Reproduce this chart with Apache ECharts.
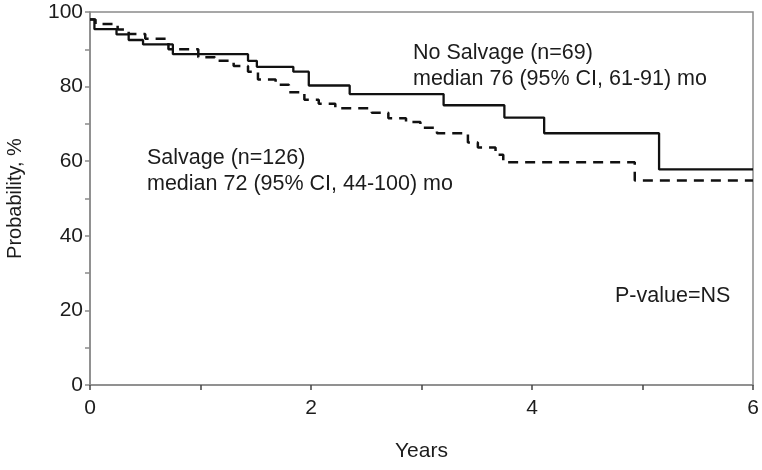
<!DOCTYPE html>
<html>
<head>
<meta charset="utf-8">
<script src="https://cdn.jsdelivr.net/npm/echarts@6/dist/echarts.min.js"></script>
<style>
html,body{margin:0;padding:0;background:#fff;}
#chart{width:762px;height:470px;}
</style>
</head>
<body>
<div id="chart"></div>
<script>
// Kaplan-Meier steps: time (years) and survival probability (%) after each step
var noSalvageTime = [0, 0.04, 0.24, 0.35, 0.48, 0.75, 1.43, 1.51, 1.84, 1.98, 2.35, 3.20, 3.75, 4.11, 5.15, 6.0];
var noSalvageSurv = [98.0, 95.4, 94.0, 92.5, 91.3, 88.7, 86.9, 85.3, 84.0, 80.3, 78.0, 75.0, 71.7, 67.5, 57.8, 57.8];

var salvageTime = [0, 0.05, 0.25, 0.35, 0.50, 0.71, 0.98, 1.13, 1.30, 1.43, 1.52, 1.68, 1.80, 1.94, 2.07, 2.22, 2.55, 2.70, 2.86, 2.99, 3.14, 3.42, 3.51, 3.67, 3.74, 4.93, 6.0];
var salvageSurv = [98.0, 96.8, 95.3, 94.1, 92.8, 90.0, 87.9, 86.9, 85.5, 84.0, 81.9, 80.5, 78.5, 76.5, 75.4, 74.2, 73.0, 71.5, 70.5, 69.0, 67.5, 65.0, 63.7, 61.7, 59.7, 54.8, 54.8];

var xTickLabels = [0, 2, 4, 6];
var yTickLabels = [0, 20, 40, 60, 80, 100];

function pairs(t, s) { return t.map(function (v, i) { return [v, s[i]]; }); }

var gray = '#8a8a8a';
var textColor = '#1c1c1c';
var font = 'Liberation Sans, Arial, Helvetica, sans-serif';

var chart = echarts.init(document.getElementById('chart'), null, { renderer: 'canvas' });
chart.setOption({
  animation: false,
  backgroundColor: '#fff',
  grid: { left: 90, right: 9, top: 12, bottom: 85, containLabel: false, outerBoundsMode: 'none',
          show: true, borderColor: gray, borderWidth: 1.5, backgroundColor: 'transparent' },
  xAxis: {
    type: 'value', min: 0, max: 6, interval: 1,
    name: 'Years', nameLocation: 'middle', nameGap: 56,
    nameTextStyle: { fontFamily: font, fontSize: 21, color: textColor },
    axisLine: { show: true, lineStyle: { color: gray, width: 1.5 } },
    axisTick: { show: true, inside: false, length: 5, lineStyle: { color: '#444', width: 1.5 } },
    axisLabel: {
      margin: 13, fontFamily: font, fontSize: 21, color: textColor,
      formatter: function (v) { return xTickLabels.indexOf(v) >= 0 ? String(v) : ''; }
    },
    splitLine: { show: false }
  },
  yAxis: {
    type: 'value', min: 0, max: 100, interval: 10,
    name: 'Probability, %', nameLocation: 'middle', nameGap: 65, nameRotate: 90,
    nameTextStyle: { fontFamily: font, fontSize: 20, color: textColor },
    axisLine: { show: true, lineStyle: { color: gray, width: 1.5 } },
    axisTick: { show: true, inside: false, length: 5, lineStyle: { color: gray, width: 1.5 } },
    axisLabel: {
      margin: 7, fontFamily: font, fontSize: 21, color: textColor,
      formatter: function (v) { return yTickLabels.indexOf(v) >= 0 ? String(v) : ''; }
    },
    splitLine: { show: false }
  },
  series: [
    {
      name: 'No Salvage', type: 'line', step: 'end', symbol: 'none',
      data: pairs(noSalvageTime, noSalvageSurv),
      lineStyle: { color: '#111', width: 2.3, type: 'solid' }
    },
    {
      name: 'Salvage', type: 'line', step: 'end', symbol: 'none',
      data: pairs(salvageTime, salvageSurv),
      lineStyle: { color: '#111', width: 2.5, type: [10, 7] }
    }
  ],
  graphic: [
    { type: 'text', left: 413, top: 40, style: { text: 'No Salvage (n=69)\nmedian 76 (95% CI, 61-91) mo', fill: textColor, font: '21.5px ' + font, lineHeight: 26 } },
    { type: 'text', left: 147, top: 145, style: { text: 'Salvage (n=126)\nmedian 72 (95% CI, 44-100) mo', fill: textColor, font: '21.5px ' + font, lineHeight: 26 } },
    { type: 'text', left: 615, top: 285, style: { text: 'P-value=NS', fill: textColor, font: '21.5px ' + font } }
  ]
});
</script>
</body>
</html>
